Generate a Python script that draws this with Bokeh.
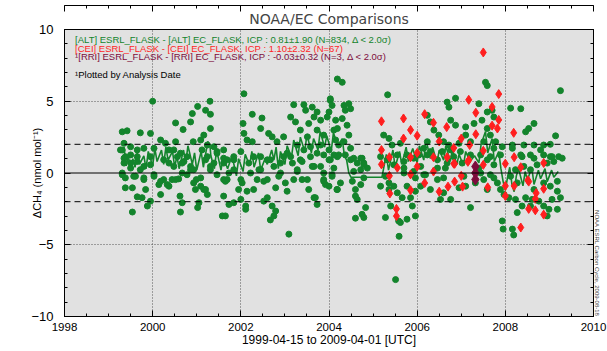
from bokeh.plotting import figure
from bokeh.models import (Range1d, LinearAxis, FixedTicker, Span, Label, Title)
from bokeh.embed import file_html
from bokeh.resources import INLINE

# ---------------- data (decimal year, delta CH4 nmol/mol) ----------------
alt_pts = [
 (2000.0,5.0),(1999.31,2.87),(1999.42,2.94),(1999.72,2.8),(1999.95,2.76),(1999.35,2.07),(1999.31,1.6),
 (1999.5,1.83),(1999.65,1.61),(1999.8,1.72),(2000.03,1.72),(1999.35,1.03),(1999.35,0.69),(1999.5,0.34),
 (1999.65,0.8),(1999.72,0.23),(1999.31,0.0),(1999.38,-0.34),(1999.61,-0.23),(1999.8,-0.34),(2000.03,-0.23),
 (1999.54,-1.03),(1999.38,-1.03),(1999.84,-1.15),(1999.65,-1.66),(1999.76,-1.72),(1999.95,-1.96),(1999.88,-2.3),
 (1999.54,-2.72),(2000.18,-1.5),(2000.14,-0.81),(2000.37,-0.92),(2000.25,-0.46),(2000.44,-0.46),(2000.59,-0.41),
 (2000.62,-1.61),(2000.67,-2.07),(2000.63,-2.72),(2000.18,2.3),(2000.29,2.07),(2000.52,2.18),(2000.37,1.61),
 (2000.48,1.61),(2000.63,1.38),(2000.25,0.92),(2000.37,0.69),(2000.48,0.46),(2000.71,0.8),(2000.78,1.14),
 (2000.86,0.46),(2000.93,0.23),(2000.78,-0.12),(2000.99,-0.46),(2001.09,-0.92),(2000.97,-1.15),(2001.2,-1.15),
 (2001.24,-1.5),(2001.05,-2.07),(2001.02,-2.41),(2001.58,-2.99),(2000.52,3.49),(2000.69,3.03),(2000.86,3.56),
 (2000.9,4.14),(2001.02,4.64),(2001.2,4.37),(2001.3,5.0),(2001.31,4.09),(2000.92,2.18),(2001.09,2.3),
 (2001.16,2.64),(2001.31,3.1),(2001.24,1.95),(2001.12,1.61),(2001.39,1.83),(2001.46,1.49),(2001.61,1.03),
 (2001.2,0.92),(2001.39,0.69),(2001.31,0.23),(2001.46,-0.12),(2001.61,-0.46),(2000.67,0.0),(1999.95,1.14),
 (1999.95,0.57),(1999.8,0.46),(1999.5,1.26),(1999.65,1.14),
 (2002.07,5.52),(2002.26,4.09),(2002.48,3.83),(2002.05,3.45),(2002.07,2.76),(2002.45,3.1),(2002.63,2.76),
 (2002.71,2.52),(2002.14,2.3),(2002.26,2.18),(2002.82,2.18),(2002.97,2.52),(2003.2,4.76),(2003.43,4.76),
 (2003.62,4.59),(2003.47,4.37),(2003.73,4.25),(2004.03,5.06),(2004.07,4.71),(2004.0,4.25),(2003.13,3.9),
 (2003.24,3.56),(2003.35,2.99),(2003.54,3.45),(2003.66,3.9),(2003.81,3.68),(2003.96,3.9),(2004.15,3.68),
 (2003.51,2.52),(2003.73,2.99),(2003.88,2.64),(2004.11,2.99),(2003.28,1.95),(2003.43,1.61),(2003.58,1.83),
 (2003.81,1.95),(2004.0,1.61),(2004.15,2.3),(2003.13,1.14),(2003.35,0.92),(2003.58,1.14),(2003.88,1.26),
 (2004.03,0.92),(2003.66,0.46),(2003.81,0.46),(2003.28,0.23),(2003.2,-0.46),(2003.39,-0.46),(2003.54,-1.15),
 (2003.66,-1.72),(2003.73,-2.19),(2003.88,-0.46),(2003.92,-0.81),(2004.18,-1.15),(2003.01,-0.69),(2003.05,-1.27),
 (2002.79,-1.03),(2002.6,-1.72),(2002.71,-2.3),(2002.52,-1.96),(2002.29,-1.15),(2002.14,-1.27),(2002.0,-1.84),
 (2001.84,-2.07),(2001.73,-2.19),(2002.11,-2.3),(2002.11,-2.53),(2001.61,-1.61),(2001.65,-2.99),(2002.75,-2.99),
 (2001.84,1.14),(2002.0,1.49),(2002.45,1.14),(2002.67,0.92),(2001.84,0.23),(2002.22,0.0),(2002.45,0.23),
 (2002.6,-0.46),(2002.37,-0.46),(2002.0,-0.46),(2001.69,-0.46),(2002.9,0.0),(2002.9,0.69),(2003.05,1.38),
 (2001.61,1.61),(2001.69,0.92),
 (2002.67,-3.27),(2003.09,-4.26),(2002.79,-2.65),(2003.69,-1.72),(2004.0,-0.92),(2003.88,-0.58),(2004.07,-0.12),
 (1999.27,1.61),(1999.38,1.14),(1999.5,0.69),(1999.31,-0.12),(1999.57,-0.23),(1999.8,-0.46),(2000.03,-0.12),
 (2000.18,-0.58),(2000.33,-0.81),(2000.52,-0.46),(2000.56,1.14),(2000.67,0.69),(2000.86,0.23),(2000.93,-0.69),
 (2001.09,-0.34),(2001.16,-1.15),(2001.24,1.14),(2001.31,0.46),(2001.46,1.38),(2001.61,0.69),(2001.65,-0.58),
 (2001.73,0.0),(2001.84,0.92),(2001.95,-1.15),(2002.03,-0.69),(2002.18,0.69),(2002.29,1.14),(2002.41,0.23),
 (2002.52,-0.58),(2002.6,0.92),(2002.75,0.46),(2002.86,-0.23),(2002.97,1.14),(2003.17,0.69),(2003.28,0.11),
 (2003.39,0.8),(2003.51,-0.46),(2003.62,0.46),(2003.73,1.38),(2003.88,0.0),(2004.0,0.92),(2004.11,0.34),
 (2004.22,1.26),
 (2004.19,6.55),(2004.3,6.32),(2004.03,5.17),(2004.34,4.71),(2004.45,4.83),(2004.37,4.37),(2004.49,4.48),
 (2004.3,3.79),(2004.41,3.33),(2004.19,3.1),(2004.45,2.64),(2004.34,2.18),(2004.22,1.95),(2004.49,1.72),
 (2004.37,1.26),(2004.19,1.14),(2004.56,1.03),(2004.64,0.69),(2004.75,1.03),(2004.79,0.69),(2004.72,0.23),
 (2004.87,0.34),(2004.56,0.11),(2004.79,-0.34),(2005.33,5.45),(2005.24,2.64),(2005.36,2.41),(2005.43,1.95),
 (2005.62,2.07),(2005.77,1.26),(2006.04,1.26),(2006.23,4.02),(2006.3,3.56),(2006.38,2.99),(2006.49,2.64),
 (2006.6,2.18),(2006.23,2.18),(2006.15,1.72),(2006.3,1.49),(2006.57,1.49),(2006.72,1.95),(2006.68,0.69),
 (2006.46,0.34),(2005.7,0.34),(2005.47,0.57),(2005.92,0.11),(2006.15,-0.12),
 (2004.11,1.26),(2004.49,0.92),(2004.72,1.03),(2004.79,0.57),(2004.07,-0.23),(2004.26,-0.69),(2004.19,-1.15),
 (2004.53,-0.58),(2004.6,-1.15),(2004.72,-0.81),(2004.6,-1.61),(2004.64,-1.84),(2004.83,-2.41),(2004.75,-2.88),
 (2004.6,-3.15),(2004.79,-3.1),(2005.4,-2.3),(2005.28,-3.1),(2005.58,-3.34),(2005.62,-3.45),(2005.77,-3.22),
 (2005.96,-2.99),(2005.89,-2.3),(2005.59,-4.41),(2005.51,-7.43),(2005.36,-0.69),(2005.55,-1.38),(2005.66,-1.72),
 (2005.85,-1.72),(2005.96,-1.27),(2005.47,-0.92),(2005.77,-0.92),(2006.08,-0.92),(2006.3,-1.15),(2006.46,-0.46),
 (2006.6,-1.38),(2006.76,-1.84),(2006.53,-1.84),(2006.95,-1.03),(2007.1,-0.92),(2007.21,-2.41),(2007.32,-0.69),
 (2007.51,-0.46),(2007.59,-1.15),(2007.66,-0.12),(2007.82,-0.69),(2007.89,-1.15),(2007.97,-1.5),(2007.93,-3.34),
 (2007.95,-3.91),(2008.16,-3.91),(2008.19,-4.32),(2008.08,-1.72),(2008.23,-1.84),(2008.27,-2.76),(2008.38,-2.3),
 (2008.57,-2.3),(2008.46,-1.72),(2008.61,-1.84),(2008.76,-1.96),(2008.95,-2.99),(2008.99,-2.53),(2008.87,-2.3),
 (2009.06,-1.84),(2009.18,-2.53),(2009.25,-1.72),(2009.18,-1.27),(2009.02,-0.92),(2009.18,-0.58),(2008.87,-0.69),
 (2008.65,-1.15),(2008.27,-0.69),(2008.12,-0.23),(2008.23,0.23),(2008.42,0.46),(2008.57,0.23),(2008.72,0.57),
 (2008.95,0.69),(2009.1,0.8),(2009.21,1.14),(2009.02,1.14),(2008.87,1.26),(2008.65,1.03),(2008.38,1.14),
 (2007.55,6.32),(2007.59,6.09),(2009.25,5.74),(2006.87,5.21),(2006.68,4.94),(2006.72,4.59),(2007.4,4.83),
 (2007.59,4.25),(2008.12,4.52),(2008.35,4.48),(2007.7,4.37),(2007.74,3.9),(2007.47,3.68),(2007.59,3.1),
 (2007.29,3.45),(2007.1,3.21),(2006.87,3.33),(2006.76,3.68),(2008.65,3.45),(2008.53,3.1),(2008.46,2.87),
 (2009.14,2.59),(2007.1,2.64),(2007.21,2.18),(2007.51,2.18),(2007.66,2.64),(2007.78,2.18),(2007.74,1.72),
 (2007.93,1.83),(2008.16,1.95),(2008.42,1.95),(2008.65,1.95),(2008.87,1.95),(2009.02,2.0),(2008.8,1.61),
 (2009.06,1.14),(2009.29,1.03),(2008.57,1.26),(2008.35,1.26),(2008.16,1.72),(2007.44,1.26),(2007.66,1.14),
 (2006.98,1.49),(2006.76,1.61),(2006.95,2.07),
 (2005.17,1.14),(2005.32,0.92),(2005.55,1.26),(2005.7,0.8),(2005.92,1.03),(2006.08,0.46),(2006.23,1.26),
 (2006.46,0.92),(2006.64,0.34),(2006.83,1.14),(2007.02,0.69),(2007.21,1.26),(2007.4,0.34),(2007.59,0.92),
 (2007.74,0.57),(2007.89,1.26),(2005.7,0.0),(2005.96,-0.34),(2006.19,-0.12),(2006.6,-0.34),(2007.06,-0.23),
 (2007.44,0.0),(2007.74,-0.34),(2005.28,-0.23),(2005.36,-1.15),(2005.17,-0.92),
]
alt_x = [p[0] for p in alt_pts]
alt_y = [p[1] for p in alt_pts]

# ALT running trace (green line)
alt_line_x = [1999.35,1999.4,1999.45,1999.5,1999.55,1999.6,1999.65,1999.7,1999.8,1999.85,1999.9,2000.0,2000.05,
 2000.1,2000.2,2000.25,2000.3,2000.35,2000.45,2000.5,2000.55,2000.6,2000.7,2000.75,2000.8,2000.9,2000.95,2001.0,
 2001.1,2001.15,2001.25,2001.3,2001.32,2001.4,2001.45,2001.55,2001.6,2001.7,2001.8,2001.9,2001.95,2002.05,2002.1,
 2002.2,2002.25,2002.3,2002.4,2002.45,2002.55,2002.6,2002.7,2002.75,2002.8,2002.85,2002.9,2003.0,2003.05,2003.15,
 2003.2,2003.3,2003.35,2003.45,2003.5,2003.6,2003.65,2003.75,2003.8,2003.9,2003.95,2004.05,2004.1,2004.2,2004.3,
 2004.35,2004.4,2004.45,2004.5,2005.2,2005.25,2005.3,2005.35,2005.45,2005.5,2005.6,2005.65,2005.75,2005.8,2005.9,
 2006.0,2006.05,2006.15,2006.2,2006.3,2006.35,2006.45,2006.5,2006.6,2006.65,2006.75,2006.8,2006.9,2006.95,2007.05,
 2007.1,2007.2,2007.3,2007.4,2007.45,2007.55,2007.6,2007.7,2007.75,2007.85,2007.9,2007.95,2008.0,2008.05,2008.1,
 2008.15,2008.2,2008.25,2008.3,2008.4,2008.45,2008.5,2008.6,2008.65,2008.75,2008.8,2008.9,2008.95,2009.05,2009.1,2009.2]
alt_line_y = [1.8,0.5,1.2,0.2,1.0,0.4,1.4,0.6,1.2,0.3,1.5,0.5,1.7,
 0.8,1.6,0.6,1.8,0.9,1.5,0.4,1.2,0.3,1.6,0.7,1.9,0.6,1.4,0.2,
 1.5,0.4,2.2,1.9,1.2,0.3,1.6,0.2,1.1,0.3,1.2,-0.2,1.0,0.1,1.3,
 0.5,1.5,0.4,1.4,0.2,1.0,0.6,1.6,0.9,1.8,0.3,1.5,0.6,1.9,1.1,
 2.3,1.2,2.5,1.5,2.7,1.4,2.4,1.6,2.9,1.8,2.6,1.5,2.8,1.9,2.4,
 1.2,0.9,0.0,-0.3,-0.3,0.5,1.3,0.2,1.6,0.4,1.5,0.6,1.8,0.8,1.7,
 0.7,1.9,0.9,2.3,1.0,1.8,0.7,1.6,0.9,1.9,0.8,1.6,0.6,1.3,0.5,
 1.5,0.8,1.2,0.7,2.0,2.9,1.4,2.4,0.8,1.5,0.3,-0.6,-1.2,-0.3,0.4,
 -0.8,-1.3,-0.2,0.3,-0.9,0.1,-0.5,0.4,-0.8,0.2,-0.4,0.3,-0.6,0.2,-0.3,0.1]

cei_x = [2005.19,2005.69,2006.17,2005.85,2006.0,2005.69,2006.37,2006.67,2006.5,2005.19,2005.37,2005.85,2006.0,
 2006.37,2005.19,2005.55,2005.85,2006.0,2006.37,2005.37,2007.5,2007.85,2007.17,2007.33,2007.7,2007.7,2007.85,
 2007.82,2007.33,2008.19,2007.0,2007.19,2006.83,2007.5,2007.17,2006.83,2008.0,2008.35,2008.87,2008.51,2006.68,
 2006.85,2007.15,2007.5,2008.2,2006.17,2006.7,2006.85,2007.03,2008.0,2008.2,2008.7,2008.87,2005.38,2008.0,
 2008.68,2005.53,2005.53,2008.53,2008.68,2008.87,2008.35,2008.53,2007.0,2006.5,2005.85,2007.6]
cei_y = [3.6,3.8,4.1,3.0,2.6,2.4,3.5,3.2,2.2,1.6,1.1,1.1,1.4,
 1.1,0.6,0.37,-0.1,0.45,0.1,-0.2,8.4,5.5,5.1,4.2,4.6,3.3,3.7,
 3.1,2.7,2.8,2.4,1.95,1.75,1.55,0.9,0.65,0.65,0.4,0.7,-0.5,1.1,
 0.64,0.78,0.57,1.1,-0.7,-0.95,-0.6,-0.95,-0.9,-0.9,-1.4,-1.1,-1.43,-1.6,
 -1.8,-2.5,-3.0,-2.5,-2.6,-2.9,-3.8,-0.6,-0.2,-1.3,-1.2,-1.0]

rri_x = [2007.32, 2007.32, 2007.32]
rri_y = [0.45, 0.0, -0.45]

legend_lines = [
    "[ALT] ESRL_FLASK - [ALT] EC_FLASK, ICP : 0.81\u00b11.90 (N=834, \u0394 < 2.0\u03c3)",
    "[CEI] ESRL_FLASK - [CEI] EC_FLASK, ICP : 1.10\u00b12.32 (N=67)",
    "\u00b9[RRI] ESRL_FLASK - [RRI] EC_FLASK, ICP : -0.03\u00b10.32 (N=3, \u0394 < 2.0\u03c3)",
]
note_text = "\u00b9Plotted by Analysis Date"
title_text = "NOAA/EC Comparisons"
x_label = "1999-04-15 to 2009-04-01 [UTC]"
y_label = "\u0394CH\u2084 (nmol mol\u207b\u00b9)"
credit_text = "NOAA ESRL Carbon Cycle, 2009-08-18"
x_ticks = [1998, 2000, 2002, 2004, 2006, 2008, 2010]
y_ticks = [-10, -5, 0, 5, 10]

GREEN = "#13842c"
RED = "#ff1f1f"
MAROON = "#7d0c3c"
FONT = "Liberation Sans"

p = figure(output_backend="svg", toolbar_location=None,
           x_range=Range1d(1998, 2010), y_range=Range1d(-10, 10),
           min_border_left=64, min_border_right=14, min_border_top=29, min_border_bottom=34,
           title=None)
p.frame_width = 529
p.frame_height = 287
p.background_fill_color = "#e1e1e1"
p.border_fill_color = "white"
p.outline_line_color = "black"
p.outline_line_width = 1

# title
p.add_layout(Title(text=title_text, text_font="DejaVu Sans", text_font_size="14px",
                   text_font_style="normal", align="center", standoff=6, offset=0), "above")

for ax in (p.xaxis[0], p.yaxis[0]):
    ax.major_tick_in = 6
    ax.major_tick_out = 0
    ax.minor_tick_in = 3
    ax.minor_tick_out = 0
    ax.axis_line_color = "black"
    ax.major_label_text_font = FONT
    ax.major_label_text_color = "black"
    ax.axis_label_text_font = FONT
    ax.axis_label_text_font_style = "normal"
    ax.axis_label_text_color = "black"

p.xaxis[0].ticker = FixedTicker(ticks=x_ticks, minor_ticks=[1998 + 0.5 * i for i in range(25)])
p.yaxis[0].ticker = FixedTicker(ticks=y_ticks, minor_ticks=list(range(-10, 11)))
p.xaxis[0].major_label_text_font_size = "11.5px"
p.yaxis[0].major_label_text_font_size = "13px"
p.xaxis[0].major_label_standoff = 6
p.yaxis[0].major_label_standoff = 11
p.xaxis[0].axis_label = x_label
p.xaxis[0].axis_label_text_font_size = "12px"
p.xaxis[0].axis_label_standoff = -1
p.yaxis[0].axis_label = y_label
p.yaxis[0].axis_label_text_font_size = "11px"
p.yaxis[0].axis_label_standoff = -15

top_ax = LinearAxis(ticker=FixedTicker(ticks=x_ticks, minor_ticks=[1998 + 0.5 * i for i in range(25)]),
                    major_label_overrides={t: "" for t in x_ticks}, major_tick_in=6, major_tick_out=0,
                    minor_tick_in=3, minor_tick_out=0, major_label_standoff=0)
right_ax = LinearAxis(ticker=FixedTicker(ticks=y_ticks, minor_ticks=list(range(-10, 11))),
                      major_label_overrides={t: "" for t in y_ticks}, major_tick_in=6, major_tick_out=0,
                      minor_tick_in=3, minor_tick_out=0, major_label_standoff=0)
p.add_layout(top_ax, "above")
p.add_layout(right_ax, "right")
p.add_layout(Title(text=credit_text, text_font=FONT, text_font_size="6px", text_font_style="normal",
                   align="right", standoff=0, offset=0), "right")

p.xgrid.ticker = FixedTicker(ticks=[2000, 2002, 2004, 2006, 2008])
p.xgrid.grid_line_color = "#555555"
p.xgrid.grid_line_dash = "1 2"
p.ygrid.ticker = FixedTicker(ticks=[-5, 5])
p.ygrid.grid_line_color = "#555555"
p.ygrid.grid_line_dash = "1 2"

p.add_layout(Span(location=0, dimension="width", line_color="black", line_width=1))
p.add_layout(Span(location=2, dimension="width", line_color="black", line_width=1, line_dash="6 4"))
p.add_layout(Span(location=-2, dimension="width", line_color="black", line_width=1, line_dash="6 4"))

p.scatter(alt_x, alt_y, marker="circle", size=6, fill_color=GREEN, line_color=GREEN)
p.line(alt_line_x, alt_line_y, line_color=GREEN, line_width=1.6)
p.scatter(cei_x, cei_y, marker="diamond", size=9, fill_color=RED, line_color=RED)
p.scatter(rri_x, rri_y, marker="diamond", size=11, fill_color=MAROON, line_color=MAROON)

# legend text inside frame
leg_colors = [GREEN, RED, MAROON]
leg_y = [9.33, 8.71, 8.09]
for txt, col, yy in zip(legend_lines, leg_colors, leg_y):
    p.add_layout(Label(x=1998.24, y=yy, text=txt, text_color=col, text_font=FONT,
                       text_font_size="9.5px", text_baseline="middle"))
p.add_layout(Label(x=1998.24, y=6.85, text=note_text, text_color="black",
                   text_font=FONT, text_font_size="9.5px", text_baseline="middle"))

open("out.html", "w").write(file_html(p, INLINE))
